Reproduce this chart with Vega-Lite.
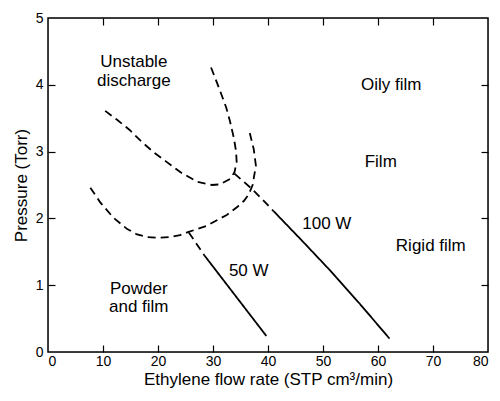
{
  "$schema": "https://vega.github.io/schema/vega-lite/v6.json",
  "width": 440,
  "height": 334,
  "padding": {"left": 12, "top": 11, "right": 5, "bottom": 5},
  "config": {
    "font": "Liberation Sans",
    "axis": {
      "domainColor": "black", "tickColor": "black", "tickWidth": 1.2, "zindex": 1,
      "labelColor": "black", "titleColor": "black", "labelFontSize": 14, "titleFontSize": 17,
      "titleFontWeight": "normal", "labelFont": "Liberation Sans", "titleFont": "Liberation Sans",
      "grid": false
    }
  },
  "datasets": {
    "curves": [
      {"seg": "upper", "style": "dashed", "i": 0, "x": 10.4, "y": 3.61},
      {"seg": "upper", "style": "dashed", "i": 1, "x": 12.5, "y": 3.48},
      {"seg": "upper", "style": "dashed", "i": 2, "x": 14.9, "y": 3.32},
      {"seg": "upper", "style": "dashed", "i": 3, "x": 17.0, "y": 3.15},
      {"seg": "upper", "style": "dashed", "i": 4, "x": 19.2, "y": 2.99},
      {"seg": "upper", "style": "dashed", "i": 5, "x": 21.5, "y": 2.85},
      {"seg": "upper", "style": "dashed", "i": 6, "x": 24.1, "y": 2.69},
      {"seg": "upper", "style": "dashed", "i": 7, "x": 27.1, "y": 2.55},
      {"seg": "upper", "style": "dashed", "i": 8, "x": 29.8, "y": 2.50},
      {"seg": "upper", "style": "dashed", "i": 9, "x": 31.3, "y": 2.51},
      {"seg": "upper", "style": "dashed", "i": 10, "x": 33.1, "y": 2.59},
      {"seg": "upper", "style": "dashed", "i": 11, "x": 33.9, "y": 2.69},
      {"seg": "upper", "style": "dashed", "i": 12, "x": 34.3, "y": 2.84},
      {"seg": "upper", "style": "dashed", "i": 13, "x": 34.2, "y": 3.0},
      {"seg": "upper", "style": "dashed", "i": 14, "x": 33.8, "y": 3.2},
      {"seg": "upper", "style": "dashed", "i": 15, "x": 33.1, "y": 3.45},
      {"seg": "upper", "style": "dashed", "i": 16, "x": 32.4, "y": 3.66},
      {"seg": "upper", "style": "dashed", "i": 17, "x": 31.1, "y": 3.95},
      {"seg": "upper", "style": "dashed", "i": 18, "x": 29.5, "y": 4.29},
      {"seg": "lower", "style": "dashed", "i": 0, "x": 7.7, "y": 2.46},
      {"seg": "lower", "style": "dashed", "i": 1, "x": 9.5, "y": 2.24},
      {"seg": "lower", "style": "dashed", "i": 2, "x": 11.9, "y": 2.01},
      {"seg": "lower", "style": "dashed", "i": 3, "x": 14.4, "y": 1.84},
      {"seg": "lower", "style": "dashed", "i": 4, "x": 16.2, "y": 1.76},
      {"seg": "lower", "style": "dashed", "i": 5, "x": 18.0, "y": 1.72},
      {"seg": "lower", "style": "dashed", "i": 6, "x": 20.1, "y": 1.71},
      {"seg": "lower", "style": "dashed", "i": 7, "x": 22.0, "y": 1.72},
      {"seg": "lower", "style": "dashed", "i": 8, "x": 24.0, "y": 1.75},
      {"seg": "lower", "style": "dashed", "i": 9, "x": 25.3, "y": 1.79},
      {"seg": "lower", "style": "dashed", "i": 10, "x": 28.9, "y": 1.89},
      {"seg": "lower", "style": "dashed", "i": 11, "x": 31.3, "y": 2.0},
      {"seg": "lower", "style": "dashed", "i": 12, "x": 32.5, "y": 2.05},
      {"seg": "lower", "style": "dashed", "i": 13, "x": 34.4, "y": 2.17},
      {"seg": "lower", "style": "dashed", "i": 14, "x": 35.6, "y": 2.26},
      {"seg": "lower", "style": "dashed", "i": 15, "x": 36.5, "y": 2.36},
      {"seg": "lower", "style": "dashed", "i": 16, "x": 37.2, "y": 2.5},
      {"seg": "lower", "style": "dashed", "i": 17, "x": 37.8, "y": 2.79},
      {"seg": "lower", "style": "dashed", "i": 18, "x": 37.4, "y": 3.04},
      {"seg": "lower", "style": "dashed", "i": 19, "x": 36.5, "y": 3.34},
      {"seg": "w100d", "style": "dashed", "i": 0, "x": 33.9, "y": 2.67},
      {"seg": "w100d", "style": "dashed", "i": 1, "x": 37.1, "y": 2.44},
      {"seg": "w100d", "style": "dashed", "i": 2, "x": 39.5, "y": 2.24},
      {"seg": "w100d", "style": "dashed", "i": 3, "x": 41.0, "y": 2.11},
      {"seg": "w100s", "style": "solid", "i": 0, "x": 41.0, "y": 2.11},
      {"seg": "w100s", "style": "solid", "i": 1, "x": 46.2, "y": 1.665},
      {"seg": "w100s", "style": "solid", "i": 2, "x": 51.3, "y": 1.22},
      {"seg": "w100s", "style": "solid", "i": 3, "x": 56.6, "y": 0.73},
      {"seg": "w100s", "style": "solid", "i": 4, "x": 62.1, "y": 0.20},
      {"seg": "w50d", "style": "dashed", "i": 0, "x": 25.6, "y": 1.79},
      {"seg": "w50d", "style": "dashed", "i": 1, "x": 28.4, "y": 1.45},
      {"seg": "w50s", "style": "solid", "i": 0, "x": 28.4, "y": 1.45},
      {"seg": "w50s", "style": "solid", "i": 1, "x": 39.7, "y": 0.24}
    ],
    "labels": [
      {"label": "Unstable", "x": 15.6, "y": 4.34},
      {"label": "discharge", "x": 15.6, "y": 4.06},
      {"label": "Oily film", "x": 62.4, "y": 3.99},
      {"label": "Film", "x": 60.5, "y": 2.84},
      {"label": "100 W", "x": 50.7, "y": 1.91},
      {"label": "Rigid film", "x": 69.6, "y": 1.59},
      {"label": "50 W", "x": 36.5, "y": 1.21},
      {"label": "Powder", "x": 16.5, "y": 0.94},
      {"label": "and film", "x": 16.5, "y": 0.67}
    ],
    "frame": [
      {"i": 0, "x": 0, "y": 0},
      {"i": 1, "x": 80, "y": 0},
      {"i": 2, "x": 80, "y": 5},
      {"i": 3, "x": 0, "y": 5},
      {"i": 4, "x": 0, "y": 0}
    ]
  },
  "resolve": {
    "scale": {"x": "independent", "y": "independent"},
    "axis": {"x": "independent", "y": "independent"}
  },
  "layer": [
    {
      "data": {"name": "curves"},
      "mark": {"type": "line", "color": "black", "strokeWidth": 1.8},
      "encoding": {
        "x": {"field": "x", "type": "quantitative",
              "scale": {"domain": [0, 80], "nice": false},
              "axis": {"orient": "bottom", "values": [0, 10, 20, 30, 40, 50, 60, 70, 80], "ticks": false, "domain": false, "labelPadding": 2, "title": "Ethylene flow rate (STP cm³/min)", "titlePadding": 3}},
        "y": {"field": "y", "type": "quantitative",
              "scale": {"domain": [0, 5], "nice": false},
              "axis": {"orient": "left", "values": [0, 1, 2, 3, 4, 5], "ticks": false, "domain": false, "labelPadding": 5, "title": "Pressure (Torr)", "titlePadding": 5}},
        "detail": {"field": "seg"},
        "order": {"field": "i", "type": "quantitative"},
        "strokeDash": {"field": "style", "type": "nominal",
                       "scale": {"domain": ["dashed", "solid"], "range": [[8, 5], [1, 0]]},
                       "legend": null}
      }
    },
    {
      "data": {"name": "frame"},
      "mark": {"type": "line", "color": "black", "strokeWidth": 1.5, "strokeCap": "square"},
      "encoding": {
        "x": {"field": "x", "type": "quantitative", "scale": {"domain": [0, 80], "nice": false}, "axis": null},
        "y": {"field": "y", "type": "quantitative", "scale": {"domain": [0, 5], "nice": false}, "axis": null},
        "order": {"field": "i", "type": "quantitative"}
      }
    },
    {
      "data": {"name": "labels"},
      "mark": {"type": "text", "fontSize": 17, "font": "Liberation Sans", "color": "black", "align": "center", "baseline": "middle"},
      "encoding": {
        "x": {"field": "x", "type": "quantitative",
              "scale": {"domain": [0, 80], "nice": false},
              "axis": {"orient": "bottom", "offset": -7, "tickSize": 7, "domain": false, "values": [10, 20, 30, 40, 50, 60, 70], "labels": false, "title": null}},
        "y": {"field": "y", "type": "quantitative",
              "scale": {"domain": [0, 5], "nice": false},
              "axis": {"orient": "left", "offset": -7, "tickSize": 7, "domain": false, "values": [1, 2, 3, 4], "labels": false, "title": null}},
        "text": {"field": "label", "type": "nominal"}
      }
    },
    {
      "data": {"name": "labels"},
      "mark": {"type": "point", "opacity": 0},
      "encoding": {
        "x": {"field": "x", "type": "quantitative",
              "scale": {"domain": [0, 80], "nice": false},
              "axis": {"orient": "top", "offset": -7, "tickSize": 7, "domain": false, "values": [10, 20, 30, 40, 50, 60, 70], "labels": false, "title": null}},
        "y": {"field": "y", "type": "quantitative",
              "scale": {"domain": [0, 5], "nice": false},
              "axis": {"orient": "right", "offset": -7, "tickSize": 7, "domain": false, "values": [1, 2, 3, 4], "labels": false, "title": null}}
      }
    }
  ]
}
